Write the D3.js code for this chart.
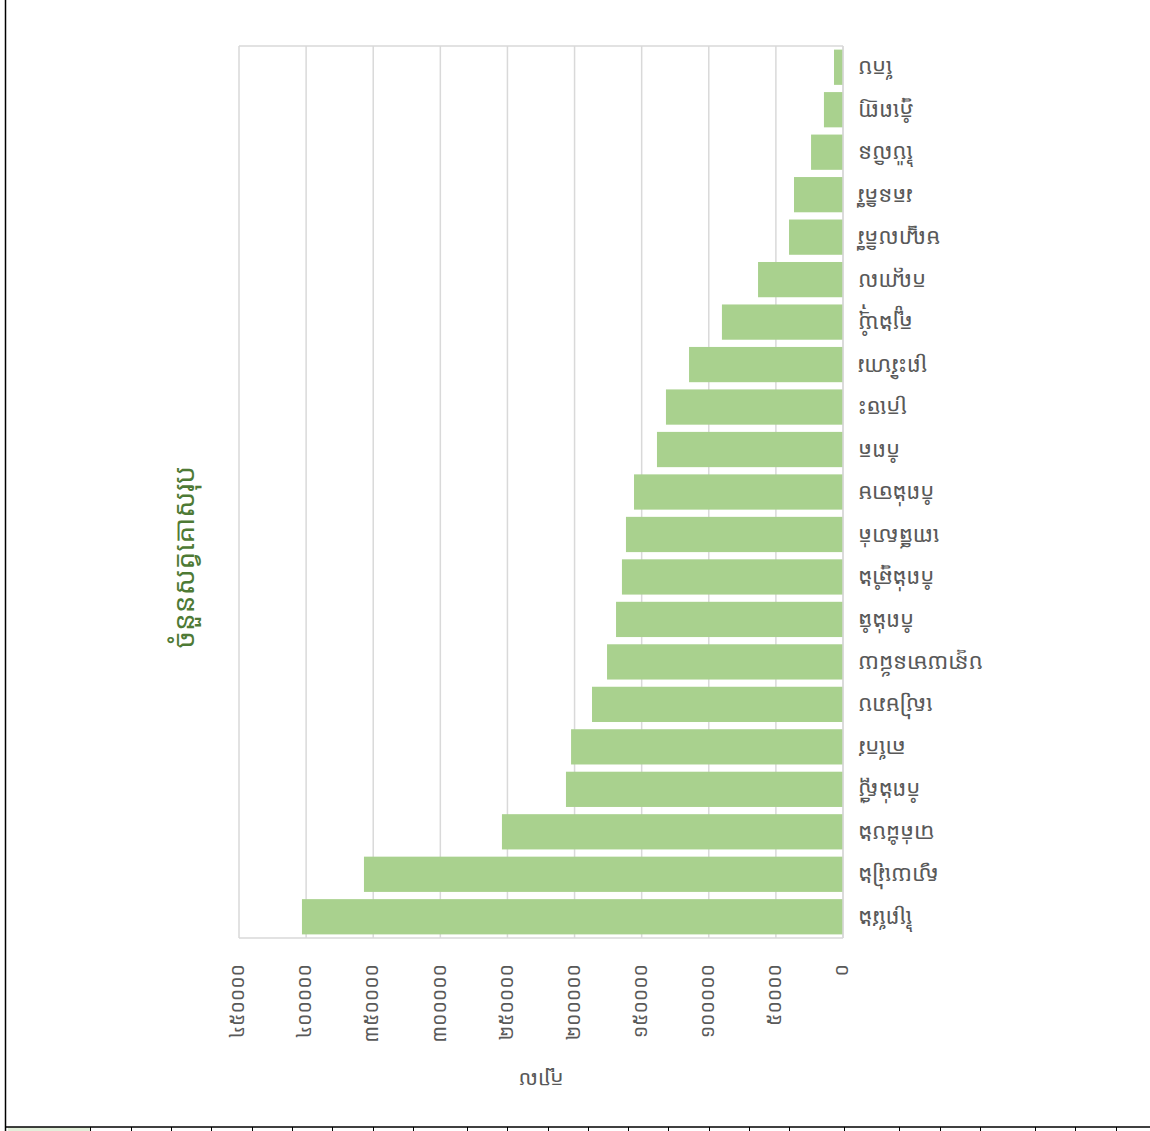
<!DOCTYPE html>
<html>
<head>
<meta charset="utf-8">
<script src="https://cdn.jsdelivr.net/npm/d3@7"></script>
<style>
  body { margin: 0; background: #fff; }
  text { font-family: "Noto Sans Khmer", "Khmer OS", "Noto Sans", sans-serif; }
</style>
</head>
<body>
<svg id="chart" width="1150" height="1131"></svg>
<script>
// the whole chart is shown turned on its side: provinces, smallest first
var provinces = ["កែប", "ភ្នំពេញ", "ប៉ៃលិន", "រតនគិរី", "មណ្ឌលគិរី", "កណ្ដាល", "ត្បូងឃ្មុំ",
    "ព្រះវិហារ", "ក្រចេះ", "កំពត", "កំពង់ចាម", "ពោធិ៍សាត់", "កំពង់ឆ្នាំង", "កំពង់ធំ",
    "បន្ទាយមានជ័យ", "សៀមរាប", "តាកែវ", "កំពង់ស្ពឺ", "បាត់ដំបង", "ស្វាយរៀង", "ព្រៃវែង"];
var cattle = [6700, 14200, 23800, 36500, 40200, 63300, 90200,
    114700, 131900, 138600, 155700, 161700, 164700, 169100,
    175800, 187000, 202600, 206400, 254100, 356900, 403100];
var ticks = [0, 50000, 100000, 150000, 200000, 250000, 300000, 350000, 400000, 450000];
var titleText = "ចំនួនសត្វគោសរុប";
var axisTitle = "ក្បាល";
// spreadsheet column edges seen along the bottom
var sheetCols = [90, 131, 171, 211, 252, 292, 332, 373, 413, 467, 507, 548, 588, 628, 668, 709, 749, 789, 844, 899, 940, 980, 1035, 1075, 1116];

var svg = d3.select("#chart");
var plotLeft = 239, plotRight = 843, plotTop = 46, plotBottom = 938;

function khmerDigits(n) {
    var d = "០១២៣៤៥៦៧៨៩";
    return String(n).replace(/[0-9]/g, function(c) { return d[+c]; });
}

var x = d3.scaleLinear().domain([0, 450000]).range([plotRight, plotLeft]);
var y = d3.scaleBand().domain(provinces).range([plotTop, plotBottom]).paddingInner(0.17).paddingOuter(0.085);

// sheet decorations
svg.append("line").attr("x1", 5.5).attr("x2", 5.5).attr("y1", 0).attr("y2", 1131)
    .style("stroke", "#000").style("stroke-width", 1.5);
svg.append("rect").attr("x", 8).attr("y", 1127).attr("width", 82).attr("height", 4).style("fill", "#e2efda");
svg.append("line").attr("x1", 5).attr("x2", 1150).attr("y1", 1127).attr("y2", 1127)
    .style("stroke", "#000").style("stroke-width", 1.5);
svg.selectAll(".sheet-col").data(sheetCols).enter().append("line")
    .attr("class", "sheet-col")
    .attr("x1", function(d) { return d + 0.5; }).attr("x2", function(d) { return d + 0.5; })
    .attr("y1", 1127).attr("y2", 1131)
    .style("stroke", "#000");

// grid
svg.selectAll(".grid").data(ticks).enter().append("line")
    .attr("class", "grid")
    .attr("x1", function(d) { return x(d); }).attr("x2", function(d) { return x(d); })
    .attr("y1", plotTop).attr("y2", plotBottom)
    .style("stroke", "#d9d9d9").style("stroke-width", 1.5);
svg.append("line").attr("x1", plotLeft).attr("x2", plotRight).attr("y1", plotTop).attr("y2", plotTop)
    .style("stroke", "#d9d9d9").style("stroke-width", 1.5);
svg.append("line").attr("x1", plotLeft).attr("x2", plotRight).attr("y1", plotBottom).attr("y2", plotBottom)
    .style("stroke", "#d9d9d9").style("stroke-width", 1.5);

// bars
svg.selectAll(".bar").data(cattle).enter().append("rect")
    .attr("class", "bar")
    .attr("x", function(d) { return x(d); })
    .attr("y", function(d, i) { return y(provinces[i]); })
    .attr("width", function(d) { return x(0) - x(d); })
    .attr("height", y.bandwidth())
    .style("fill", "#a9d18e");

// category axis line
svg.append("line").attr("x1", plotRight).attr("x2", plotRight).attr("y1", plotTop).attr("y2", plotBottom)
    .style("stroke", "#d9d9d9").style("stroke-width", 1.5);

// province labels, upside down like the picture
svg.selectAll(".cat").data(provinces).enter().append("text")
    .attr("class", "cat")
    .attr("transform", function(d) { return "translate(858," + (y(d) + y.bandwidth() / 2) + ") rotate(180)"; })
    .attr("text-anchor", "end")
    .attr("dominant-baseline", "middle")
    .style("font-size", "22px")
    .style("fill", "#595959")
    .text(function(d) { return d; });

// value tick labels, turned
svg.selectAll(".tick-label").data(ticks).enter().append("text")
    .attr("class", "tick-label")
    .attr("transform", function(d) { return "translate(" + x(d) + ",964) rotate(-90)"; })
    .attr("text-anchor", "end")
    .attr("dominant-baseline", "middle")
    .style("font-size", "19.5px")
    .style("fill", "#595959")
    .text(function(d) { return khmerDigits(d); });

// value axis title
svg.append("text")
    .attr("transform", "translate(541,1079) rotate(180)")
    .attr("text-anchor", "middle")
    .attr("dominant-baseline", "middle")
    .style("font-size", "21px")
    .style("fill", "#595959")
    .text(axisTitle);

// chart title
svg.append("text")
    .attr("transform", "translate(186,557) rotate(-90)")
    .attr("text-anchor", "middle")
    .attr("dominant-baseline", "middle")
    .style("font-size", "28px")
    .style("fill", "#4e7a35")
    .text(titleText);
</script>
</body>
</html>
